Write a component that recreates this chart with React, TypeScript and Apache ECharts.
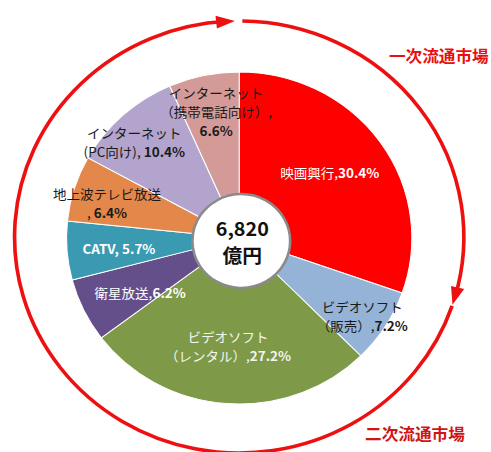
import React, { useEffect, useRef } from "react";
import * as echarts from "echarts";

// ---- data ----
const categories = [
  "映画興行",
  "ビデオソフト\n（販売）",
  "ビデオソフト\n（レンタル）",
  "衛星放送",
  "CATV",
  "地上波テレビ放送",
  "インターネット\n(PC向け)",
  "インターネット\n（携帯電話向け）",
];
const shares = [30.4, 7.2, 27.2, 6.2, 5.7, 6.4, 10.4, 6.6];
const separators = [",", ",", ",", ",", ", ", "\n, ", ", ", ",\n"];
const totalLines = ["6,820", "億円"];
const marketLabels = ["一次流通市場", "二次流通市場"];

// ---- styles / layout ----
const colors = ["#FF0000", "#95B3D7", "#7E9A48", "#654F8A", "#3A9AB2", "#E3884A", "#B2A4CC", "#D49A98"];
const labelColors = ["#ffffff", "#1a1a1a", "#f4f4f0", "#ffffff", "#ffffff", "#1a1a1a", "#1a1a1a", "#1a1a1a"];
const labelShift = [
  [-1, -3], [27, 20], [-3, 0], [2, 8], [-8, 2], [-24, -3], [-28, -16], [0, -21],
];
const SX = 1.04;
const W = 491 / SX;
const H = 452;
const CX = 230, CY = 238, R = 166;
const RING = { cx: 230, cy: 237, r: 216 };
const FONT = '"Noto Sans CJK JP", "Noto Sans", sans-serif';
const LABEL_SIZE = 13;

function pt(phiDeg: number, r: number): number[] {
  const a = ((phiDeg - 90) * Math.PI) / 180;
  return [RING.cx + r * Math.cos(a), RING.cy + r * Math.sin(a)];
}
function arrowHead(tipDeg: number, len: number, half: number) {
  const baseDeg = tipDeg - (len / RING.r) * 180 / Math.PI;
  return [pt(tipDeg, RING.r), pt(baseDeg, RING.r - half), pt(baseDeg, RING.r + half)];
}
const rad = (d: number) => ((d - 90) * Math.PI) / 180;

export default function App() {
  const ref = useRef<HTMLDivElement>(null);
  useEffect(() => {
    if (!ref.current) return;
    const chart = echarts.init(ref.current, null, { renderer: "svg" });
    const ringColor = "#EE1010";
    const firstEnd = 108.3;
    const topTip = 358.9;
    chart.setOption({
      animation: false,
      backgroundColor: "#ffffff",
      series: [
        {
          type: "pie",
          center: [CX, CY],
          radius: [44, R],
          startAngle: 90,
          clockwise: true,
          avoidLabelOverlap: false,
          itemStyle: { borderColor: "#ffffff", borderWidth: 1 },
          labelLine: { show: false },
          label: {
            show: true,
            position: "inside",
            fontFamily: FONT,
            fontSize: LABEL_SIZE,
            lineHeight: 19,
            formatter: (p: any) => {
              const i = p.dataIndex;
              return `{n${i}|${categories[i]}${separators[i]}}{v${i}|${shares[i]}%}`;
            },
            rich: Object.fromEntries(
              categories.flatMap((_, i) => [
                [`n${i}`, { color: labelColors[i], fontFamily: FONT, fontSize: LABEL_SIZE, lineHeight: 19, fontWeight: i === 4 ? "bold" : "normal" }],
                [`v${i}`, { color: labelColors[i], fontFamily: FONT, fontSize: LABEL_SIZE, lineHeight: 19, fontWeight: "bold" }],
              ])
            ),
          },
          labelLayout: (p: any) => ({ dx: labelShift[p.dataIndex][0], dy: labelShift[p.dataIndex][1] }),
          data: categories.map((name, i) => ({
            name,
            value: shares[i],
            itemStyle: { color: colors[i] },
          })),
        },
      ],
      graphic: [
        {
          type: "circle",
          shape: { cx: 232, cy: 241, r: 47 },
          style: { fill: "#ffffff", stroke: "#8a8a8a", lineWidth: 2.5 },
          z: 10,
        },
        {
          type: "text",
          x: 233,
          y: 242,
          z: 11,
          style: {
            text: totalLines.join("\n"),
            font: `bold 19px ${FONT}`,
            lineHeight: 27,
            fill: "#111111",
            textAlign: "center",
            textVerticalAlign: "middle",
          },
        },
        {
          type: "arc",
          shape: { cx: RING.cx, cy: RING.cy, r: RING.r, startAngle: rad(0.8), endAngle: rad(firstEnd - 2), clockwise: true },
          style: { stroke: ringColor, lineWidth: 3.5, fill: "none" },
        },
        {
          type: "polygon",
          shape: { points: arrowHead(firstEnd, 18, 6.5) },
          style: { fill: ringColor },
        },
        {
          type: "arc",
          shape: { cx: RING.cx, cy: RING.cy, r: RING.r, startAngle: rad(firstEnd + 0.3), endAngle: rad(topTip - 2), clockwise: true },
          style: { stroke: ringColor, lineWidth: 3.5, fill: "none" },
        },
        {
          type: "polygon",
          shape: { points: arrowHead(topTip, 18, 6.5) },
          style: { fill: ringColor },
        },
        {
          type: "text",
          x: 374,
          y: 55,
          style: {
            text: marketLabels[0],
            font: `bold 16px ${FONT}`,
            fill: "#E81010",
            textAlign: "left",
            textVerticalAlign: "middle",
          },
        },
        {
          type: "text",
          x: 351,
          y: 433,
          style: {
            text: marketLabels[1],
            font: `bold 16px ${FONT}`,
            fill: "#D01515",
            textAlign: "left",
            textVerticalAlign: "middle",
          },
        },
      ],
    });
    return () => chart.dispose();
  }, []);
  return (
    <div
      style={{
        position: "absolute",
        left: 0,
        top: 0,
        width: 491,
        height: H,
        overflow: "hidden",
        background: "#ffffff",
      }}
    >
      <div
        ref={ref}
        style={{
          width: W,
          height: H,
          transform: `scaleX(${SX})`,
          transformOrigin: "0 0",
        }}
      />
    </div>
  );
}
